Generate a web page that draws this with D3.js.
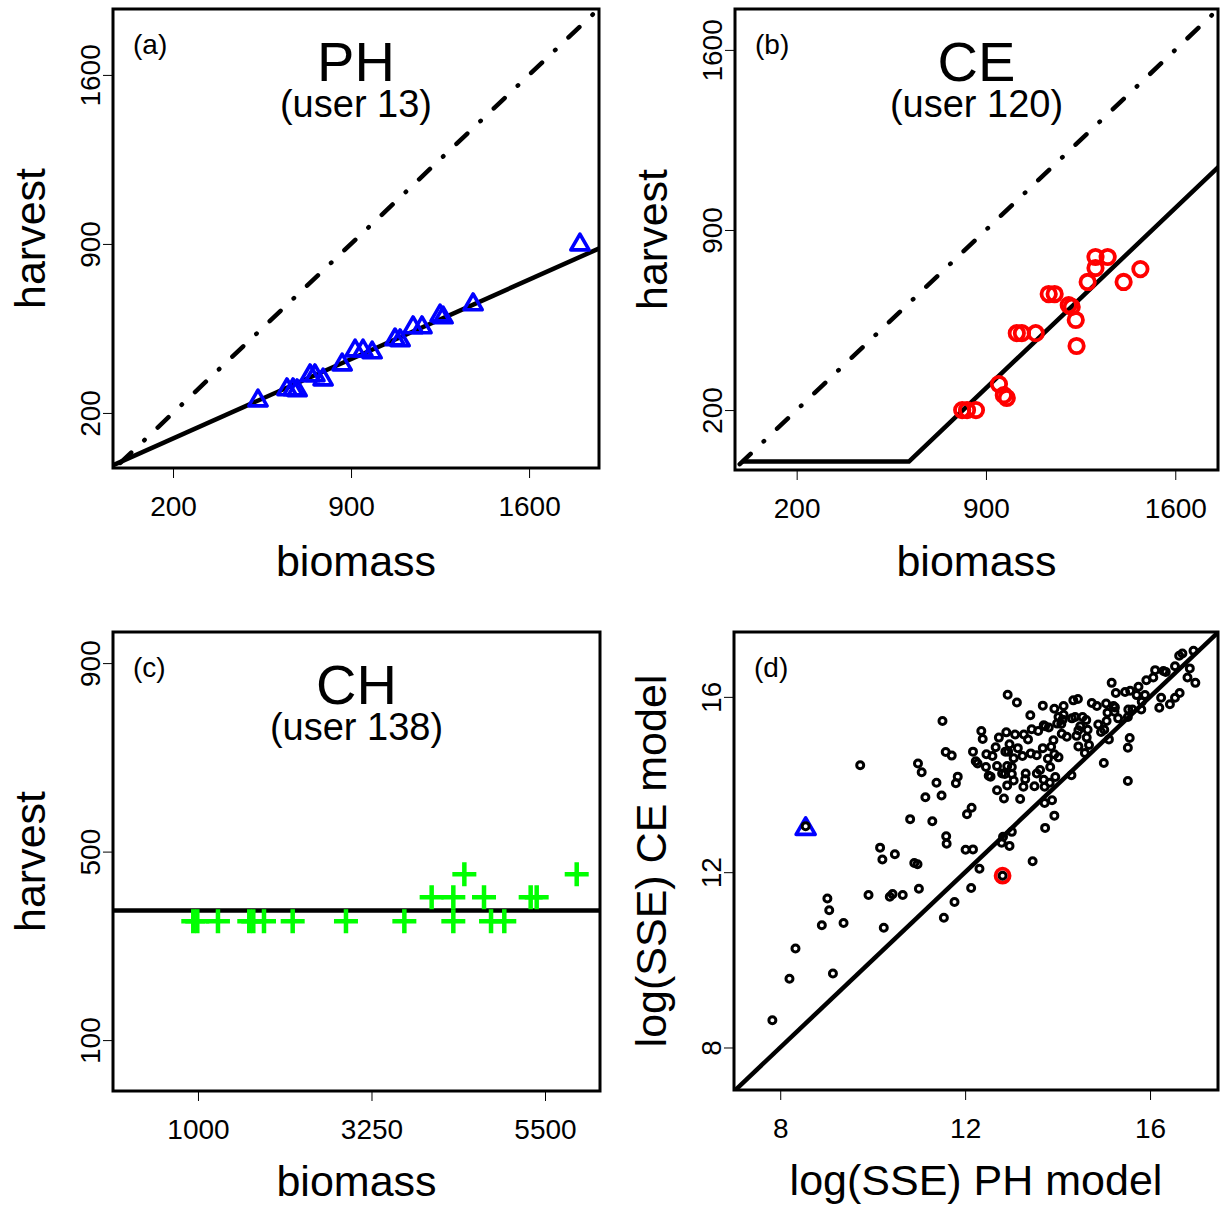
<!DOCTYPE html>
<html>
<head>
<meta charset="utf-8">
<script src="https://cdn.jsdelivr.net/npm/d3@7"></script>
<style>
  html, body { margin: 0; padding: 0; background: #fff; }
  svg { display: block; font-family: "Liberation Sans", Arial, Helvetica, sans-serif; }
</style>
</head>
<body>
<svg id="chart" width="1220" height="1207"></svg>
<script>
// ---------- data ----------
// (a) PH model, user 13
const phBiomass = [534, 648, 672, 688, 739, 758, 790, 865, 916, 947, 983, 1073, 1093, 1144, 1179, 1250, 1262, 1380, 1800];
const phHarvest = [262, 308, 308, 304, 366, 366, 349, 411, 469, 469, 461, 515, 511, 565, 565, 614, 606, 660, 908];
const phFitLine = [[-60, -28], [1900, 893]];
// (b) CE model, user 120
const ceBiomass = [812, 830, 863, 948, 966, 977, 1014, 1033, 1084, 1132, 1154, 1206, 1217, 1232, 1235, 1276, 1305, 1350, 1305, 1409, 1471];
const ceHarvest = [200, 200, 200, 301, 258, 247, 499, 499, 499, 651, 651, 608, 601, 550, 449, 698, 795, 795, 752, 698, 748];
const ceFitLine = [[0, 0], [615, 0], [1800, 1185]];
// (c) CH model, user 138
const chBiomass = [939, 991, 1259, 1665, 1717, 1856, 2228, 2919, 3676, 4311, 4800, 4972, 4030, 4311, 4709, 5314, 5392, 4454, 5911];
const chHarvest = [352, 352, 352, 352, 352, 352, 352, 352, 352, 352, 352, 352, 403, 403, 403, 403, 403, 452, 452];
const chFitLine = [[-300, 375], [6500, 375]];
// 1:1 reference line (harvest = biomass)
const oneToOne = [[-60, -60], [1900, 1900]];
// (d) log(SSE) of PH model vs CE model, all users
const ssePH = [7.83,8.20,8.33,9.14,8.90,9.06,9.02,9.37,9.73,9.91,10.24,10.37,10.43,10.65,10.16,10.21,10.48,10.90,10.97,11.00,
  10.81,11.29,11.14,11.49,11.38,10.98,11.06,11.51,11.58,11.71,11.84,11.80,11.59,11.60,11.54,11.77,12.01,12.17,12.13,12.31,
  12.04,12.14,12.81,12.79,12.82,12.96,13.01,13.46,13.73,13.72,13.88,13.93,8.55,15.52,15.00,15.52,15.56,14.30,
  12.92,13.12,12.35,12.38,12.17,12.23,12.27,12.45,12.46,12.59,12.66,12.73,12.89,13.08,13.27,13.36,13.44,13.58,13.41,13.68,
  13.73,13.81,13.93,14.13,14.02,14.11,14.34,14.44,14.74,14.85,15.05,15.21,15.17,15.26,15.46,15.57,15.75,15.71,15.89,15.82,
  15.53,15.31,15.81,15.92,16.07,16.11,16.29,16.34,16.54,16.63,16.70,16.94,16.86,16.81,16.98,16.64,16.54,16.43,16.24,16.20,
  15.06,15.11,14.88,15.01,14.62,14.54,14.38,14.49,14.65,14.45,14.41,14.63,14.45,14.68,14.59,14.09,14.20,14.08,13.99,13.91,
  13.86,13.93,14.02,13.79,13.84,13.68,13.55,13.42,13.24,13.14,12.96,12.93,12.87,13.05,12.69,12.91,13.01,12.80,12.86,13.01,
  12.51,12.55,13.05,12.91,12.69,12.84,13.19,13.26,13.30,13.31,13.50,13.55,13.62,13.70,13.72,13.83,13.95,13.70,15.23,15.52,
  15.62,15.24,15.08,14.94,14.13,14.31];
const sseCE = [8.62,9.57,10.26,9.69,10.79,11.13,11.40,10.84,14.44,11.48,10.73,11.44,11.50,11.48,12.56,12.29,12.41,12.21,12.18,11.62,
  13.21,13.16,13.71,13.75,14.04,14.48,14.28,15.45,14.74,14.66,14.18,14.03,12.82,12.65,10.96,11.32,12.51,12.52,11.64,12.08,
  13.32,13.47,11.92,12.67,12.81,12.60,12.92,12.25,13.01,13.58,13.64,13.29,13.05,14.08,14.49,14.84,15.06,14.21,
  16.05,15.87,15.22,15.04,14.75,14.53,14.48,14.40,14.69,14.65,14.85,15.07,15.19,15.14,15.14,15.03,15.26,15.22,15.58,15.80,
  15.33,15.30,15.73,15.79,15.54,15.48,15.92,15.95,15.86,15.79,15.85,15.79,16.32,16.09,16.11,16.14,16.23,16.04,16.04,15.89,
  15.71,15.51,15.71,16.38,16.44,16.61,16.59,16.57,16.70,16.94,16.99,17.05,16.65,16.44,16.32,16.09,15.98,15.83,15.98,15.75,
  15.45,15.03,15.37,15.25,15.47,15.54,15.54,15.33,15.25,15.24,15.11,15.07,14.87,14.90,14.72,15.16,15.09,15.38,15.39,15.01,
  14.86,14.69,14.62,14.59,14.40,14.83,14.67,14.71,14.65,14.83,14.92,14.75,14.75,14.60,14.42,14.42,14.40,14.25,14.24,14.24,
  14.20,14.18,14.09,13.98,13.87,13.68,13.67,13.95,14.12,14.25,13.96,14.25,14.33,14.11,13.95,14.04,14.17,15.35,15.66,15.54,
  15.71,15.76,15.64,15.20,15.59,15.51];
const user13 = [8.55, 13.05];   // highlighted PH user (blue triangle)
const user120 = [12.81, 11.92]; // highlighted CE user (red circle)
const sseDiag = [[6, 6], [18, 18]];

// tick labels
const ticksAB = [200, 900, 1600];
const ticksCx = [1000, 3250, 5500];
const ticksCy = [100, 500, 900];
const ticksD = [8, 12, 16];

// ---------- drawing ----------
const svg = d3.select("#chart");
const FONT_TICK = 28, FONT_AXIS = 43, FONT_TITLE = 56, FONT_SUB = 38, FONT_TAG = 28;
const BLUE = "#0000FF", RED = "#FF0000", GREEN = "#00FF00";
const FF = "Liberation Sans, Arial, sans-serif";

function panel(cfg) {
  const g = svg.append("g");
  const x = d3.scaleLinear().domain(cfg.xd).range([cfg.x0, cfg.x1]);
  const y = d3.scaleLinear().domain(cfg.yd).range([cfg.y1, cfg.y0]);
  const clipId = "clip-" + cfg.id;
  svg.append("clipPath").attr("id", clipId).append("rect")
    .attr("x", cfg.x0).attr("y", cfg.y0).attr("width", cfg.x1 - cfg.x0).attr("height", cfg.y1 - cfg.y0);
  const inner = g.append("g").attr("clip-path", `url(#${clipId})`);

  // axes
  const ax = g.append("g").attr("transform", `translate(0,${cfg.y1})`)
    .call(d3.axisBottom(x).tickValues(cfg.xt).tickFormat(d3.format("d")).tickSize(10).tickSizeOuter(0));
  ax.select(".domain").remove();
  ax.selectAll(".tick line").attr("stroke", "#000").attr("stroke-width", 1);
  ax.selectAll(".tick text").attr("y", 48).attr("dy", 0).attr("font-size", FONT_TICK)
    .attr("font-family", FF).attr("fill", "#000");
  const ay = g.append("g").attr("transform", `translate(${cfg.x0},0)`)
    .call(d3.axisLeft(y).tickValues(cfg.yt).tickFormat(d3.format("d")).tickSize(10).tickSizeOuter(0));
  ay.select(".domain").remove();
  ay.selectAll(".tick line").attr("stroke", "#000").attr("stroke-width", 1);
  ay.selectAll(".tick text").attr("x", 0).attr("y", -13).attr("dy", 0)
    .attr("transform", "rotate(-90)").attr("text-anchor", "middle")
    .attr("font-size", FONT_TICK).attr("font-family", FF).attr("fill", "#000");

  // axis titles
  const cx = (cfg.x0 + cfg.x1) / 2, cy = (cfg.y0 + cfg.y1) / 2;
  g.append("text").attr("x", cx).attr("y", cfg.y1 + cfg.xlabOff).attr("text-anchor", "middle")
    .attr("font-size", FONT_AXIS).text(cfg.xlab);
  g.append("text").attr("transform", `translate(${cfg.x0 - 68},${cy}) rotate(-90)`)
    .attr("text-anchor", "middle").attr("font-size", FONT_AXIS).text(cfg.ylab);

  // panel tag
  g.append("text").attr("x", cfg.x0 + 20).attr("y", cfg.y0 + 45).attr("font-size", FONT_TAG).text(cfg.tag);
  if (cfg.title) {
    g.append("text").attr("x", cx).attr("y", cfg.y0 + 72).attr("text-anchor", "middle")
      .attr("font-size", FONT_TITLE).text(cfg.title);
    g.append("text").attr("x", cx).attr("y", cfg.y0 + 108).attr("text-anchor", "middle")
      .attr("font-size", FONT_SUB).text(cfg.sub);
  }
  return { g, inner, x, y };
}

const line = (x, y) => d3.line().x(d => x(d[0])).y(d => y(d[1]));

function drawLine(p, pts, dashed) {
  const path = p.inner.append("path").attr("d", line(p.x, p.y)(pts))
    .attr("fill", "none").attr("stroke", "#000");
  if (dashed) {
    path.attr("stroke-width", 4.5).attr("stroke-linecap", "round").attr("stroke-dasharray", "0.5,18,15,18");
  } else {
    path.attr("stroke-width", 4.5).attr("stroke-linejoin", "round");
  }
}

function triPath(r) {
  const h = 0.75 * r, w = 0.866 * r;
  return `M0,${-h}L${w},${h}L${-w},${h}Z`;
}

function box(p, cfg) {
  p.g.append("rect").attr("x", cfg.x0).attr("y", cfg.y0)
    .attr("width", cfg.x1 - cfg.x0).attr("height", cfg.y1 - cfg.y0)
    .attr("fill", "none").attr("stroke", "#000").attr("stroke-width", 3);
}

// ---- panel (a)
const cfgA = { id: "a", x0: 113, x1: 599, y0: 9, y1: 468, xd: [-36, 1875], yd: [-28, 1873], xlabOff: 108,
  xt: ticksAB, yt: ticksAB, xlab: "biomass", ylab: "harvest", tag: "(a)", title: "PH", sub: "(user 13)" };
const pa = panel(cfgA);
drawLine(pa, oneToOne, true);
drawLine(pa, phFitLine, false);
pa.inner.selectAll("path.pt").data(phBiomass).join("path").attr("class", "pt")
  .attr("transform", (d, i) => `translate(${pa.x(d)},${pa.y(phHarvest[i])})`)
  .attr("d", triPath(10.5)).attr("fill", "none").attr("stroke", BLUE).attr("stroke-width", 3.6)
  .attr("stroke-linejoin", "round");
box(pa, cfgA);

// ---- panel (b)
const cfgB = { id: "b", x0: 735, x1: 1218, y0: 9, y1: 470, xd: [-28, 1758], yd: [-33, 1759], xlabOff: 106,
  xt: ticksAB, yt: ticksAB, xlab: "biomass", ylab: "harvest", tag: "(b)", title: "CE", sub: "(user 120)" };
const pb = panel(cfgB);
drawLine(pb, oneToOne, true);
drawLine(pb, ceFitLine, false);
pb.inner.selectAll("circle.pt").data(ceBiomass).join("circle").attr("class", "pt")
  .attr("cx", d => pb.x(d)).attr("cy", (d, i) => pb.y(ceHarvest[i])).attr("r", 7.2)
  .attr("fill", "none").attr("stroke", RED).attr("stroke-width", 3.8);
box(pb, cfgB);

// ---- panel (c)
const cfgC = { id: "c", x0: 113, x1: 600, y0: 632, y1: 1091, xd: [-102, 6213], yd: [-8, 966], xlabOff: 105,
  xt: ticksCx, yt: ticksCy, xlab: "biomass", ylab: "harvest", tag: "(c)", title: "CH", sub: "(user 138)" };
const pc = panel(cfgC);
drawLine(pc, chFitLine, false);
pc.inner.selectAll("path.pt").data(chBiomass).join("path").attr("class", "pt")
  .attr("transform", (d, i) => `translate(${pc.x(d)},${pc.y(chHarvest[i])})`)
  .attr("d", "M-12,0H12M0,-12V12").attr("fill", "none").attr("stroke", GREEN).attr("stroke-width", 4.5);
box(pc, cfgC);

// ---- panel (d)
const cfgD = { id: "d", x0: 734, x1: 1218, y0: 632, y1: 1090, xd: [7.0, 17.47], yd: [7.03, 17.48], xlabOff: 105,
  xt: ticksD, yt: ticksD, xlab: "log(SSE) PH model", ylab: "log(SSE) CE model", tag: "(d)" };
const pd = panel(cfgD);
drawLine(pd, sseDiag, false);
pd.inner.append("path")
  .attr("transform", `translate(${pd.x(user13[0])},${pd.y(user13[1])})`)
  .attr("d", triPath(11)).attr("fill", "none").attr("stroke", BLUE).attr("stroke-width", 3.6)
  .attr("stroke-linejoin", "round");
pd.inner.append("circle").attr("cx", pd.x(user120[0])).attr("cy", pd.y(user120[1])).attr("r", 7)
  .attr("fill", "none").attr("stroke", RED).attr("stroke-width", 3.8);
pd.inner.selectAll("circle.pt").data(ssePH).join("circle").attr("class", "pt")
  .attr("cx", d => pd.x(d)).attr("cy", (d, i) => pd.y(sseCE[i])).attr("r", 3.5)
  .attr("fill", "none").attr("stroke", "#000").attr("stroke-width", 3);
box(pd, cfgD);
</script>
</body>
</html>
